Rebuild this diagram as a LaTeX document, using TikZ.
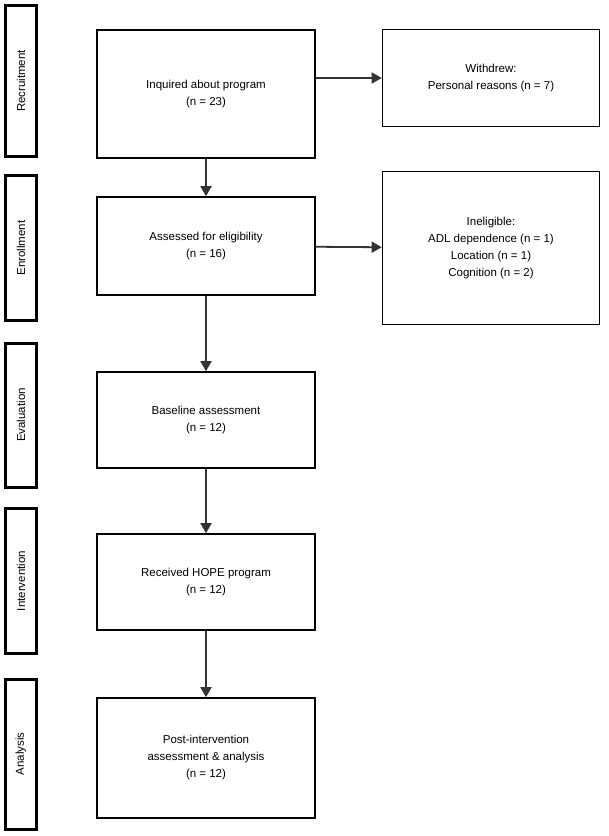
\documentclass[tikz,border=0pt]{standalone}
\usepackage{fontspec}
\setmainfont{Liberation Sans}
\usetikzlibrary{positioning,arrows.meta}
\tikzset{
  stage/.style={draw, line width=3pt, minimum height=31pt, rotate=90, font=\fontsize{11.5}{13}\selectfont},
  box/.style={draw, line width=1.6pt, align=center, font=\fontsize{11.5}{17}\selectfont},
  flow/.style={draw=black!80, line width=1.8pt, -{Triangle[length=10pt,width=11pt]}}
}
\begin{document}
\begin{tikzpicture}[x=1pt,y=-1pt]
  \useasboundingbox (0,0) rectangle (609,836);
  % stage labels on the left
  \node[stage, minimum width=151pt] (rec) at (21,81) {Recruitment};
  \node[stage, minimum width=145pt] (enr) at (21,248) {Enrollment};
  \node[stage, minimum width=144pt] (eva) at (21,415) {Evaluation};
  \node[stage, minimum width=145pt] (int) at (21,581) {Intervention};
  \node[stage, minimum width=150pt] (ana) at (21,754) {Analysis};
  % main flow
  \node[box, minimum width=218pt, minimum height=128pt] (inq) at (206,94) {Inquired about program\\(n = 23)};
  \node[box, minimum width=218pt, minimum height=98pt] (ass) at (206,246) {Assessed for eligibility\\(n = 16)};
  \node[box, minimum width=218pt, minimum height=96pt] (base) at (206,420) {Baseline assessment\\(n = 12)};
  \node[box, minimum width=218pt, minimum height=96pt] (hope) at (206,582) {Received HOPE program\\(n = 12)};
  \node[box, minimum width=218pt, minimum height=120pt] (post) at (206,758) {Post-intervention\\assessment \& analysis\\(n = 12)};
  % exclusions
  \node[box, minimum width=217pt, minimum height=97pt] (wd) at (491,78) {Withdrew:\\Personal reasons (n = 7)};
  \node[box, minimum width=217pt, minimum height=153pt] (inel) at (491,248) {Ineligible:\\ADL dependence (n = 1)\\Location (n = 1)\\Cognition (n = 2)};
  \draw[flow] (inq) -- (ass);
  \draw[flow] (ass) -- (base);
  \draw[flow] (base) -- (hope);
  \draw[flow] (hope) -- (post);
  \draw[flow] (inq.east |- wd) -- (wd);
  \draw[flow] (ass) -- (inel);
\end{tikzpicture}
\end{document}
